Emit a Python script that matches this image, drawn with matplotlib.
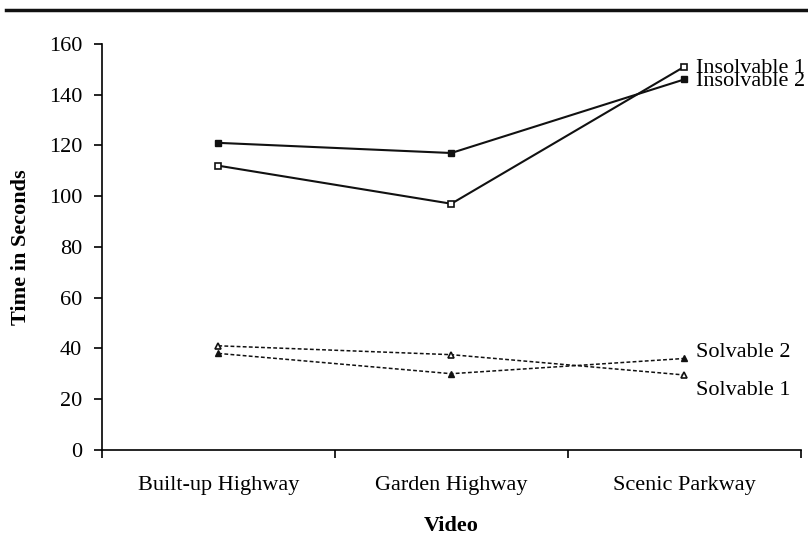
import matplotlib.pyplot as plt
from matplotlib.lines import Line2D

videos = ['Built-up Highway', 'Garden Highway', 'Scenic Parkway']
insolvable_1 = [112, 97, 151]
insolvable_2 = [121, 117, 146]
solvable_1 = [41, 37.5, 29.5]
solvable_2 = [38, 30, 36]
yticks = [0, 20, 40, 60, 80, 100, 120, 140, 160]

plt.rcParams['font.family'] = ['Liberation Serif', 'DejaVu Serif']
fs = 16

fig = plt.figure(figsize=(8.08, 5.56), dpi=100)
ax = fig.add_axes([0.126, 0.191, 0.865, 0.730])

x = [0.5, 1.5, 2.5]
ax.plot(x, insolvable_1, color='#111111', lw=1.5, marker='s', ms=5,
        mfc='white', mec='#111111', mew=1.2)
ax.plot(x, insolvable_2, color='#111111', lw=1.5, marker='s', ms=5,
        mfc='#111111', mec='#111111')
ax.plot(x, solvable_1, color='#111111', lw=1.1, ls=(0, (2.5, 1.5)), marker='^', ms=5,
        mfc='white', mec='#111111', mew=1.2)
ax.plot(x, solvable_2, color='#111111', lw=1.1, ls=(0, (2.5, 1.5)), marker='^', ms=5,
        mfc='#111111', mec='#111111')

# series labels at the right end
ax.text(2.55, insolvable_1[-1] - 0.5, 'Insolvable 1', fontsize=fs, va='center', ha='left')
ax.text(2.55, insolvable_2[-1] - 1, 'Insolvable 2', fontsize=fs, va='center', ha='left')
ax.text(2.55, solvable_2[-1] + 2.5, 'Solvable 2', fontsize=fs, va='center', ha='left')
ax.text(2.55, solvable_1[-1] - 6, 'Solvable 1', fontsize=fs, va='center', ha='left')

ax.set_xlim(0, 3)
ax.set_ylim(0, 160)
ax.set_yticks(yticks)
ax.set_xticks([0, 1, 2, 3])
ax.set_xticklabels([])
ax.set_xticks(x, minor=True)
ax.set_xticklabels(videos, minor=True, fontsize=fs)
ax.tick_params(axis='x', which='minor', length=0, pad=19)
ax.tick_params(axis='x', which='major', length=6, width=1.2, direction='out')
ax.tick_params(axis='y', length=6, width=1.2, direction='out', labelsize=fs, pad=8)

for s in ['top', 'right']:
    ax.spines[s].set_visible(False)
for s in ['left', 'bottom']:
    ax.spines[s].set_linewidth(1.2)

ax.set_ylabel('Time in Seconds', fontsize=fs, fontweight='bold', labelpad=13)
ax.set_xlabel('Video', fontsize=fs, fontweight='bold', labelpad=15)

fig.add_artist(Line2D([0.008, 1.0], [0.982, 0.982], color='#111111', lw=2.5,
                      transform=fig.transFigure))

fig.savefig('out.png', dpi=100)
